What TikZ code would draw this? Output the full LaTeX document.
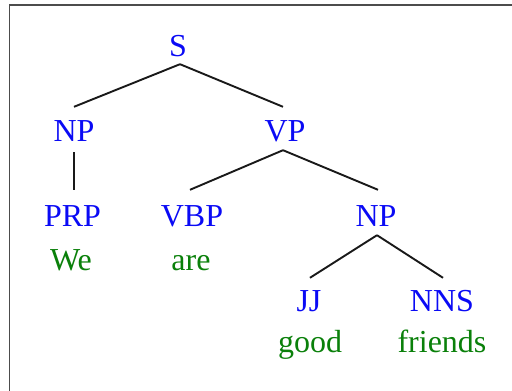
\documentclass[tikz,border=0pt]{standalone}
\usepackage{fontspec}
\setmainfont{Liberation Serif}
\definecolor{tagblue}{RGB}{10,10,245}
\definecolor{wordgreen}{RGB}{10,128,10}
\begin{document}
\begin{tikzpicture}[x=1pt,y=1pt,
  lbl/.style={inner sep=0pt,text height=21pt,text depth=0pt,anchor=base,font=\fontsize{32}{37}\selectfont},
  tag/.style={lbl,text=tagblue},
  word/.style={lbl,text=wordgreen},
  branch/.style={line width=1.9pt,black!90},
  frame/.style={line width=1.6pt,black!70}]
\useasboundingbox (0,0) rectangle (512,391);
\coordinate (tl) at (9.5,386);
\coordinate (tr) at (512,386);
\coordinate (bl) at (9.5,0);
\draw[frame] (tr) -- (tl) -- (bl);
\node[tag] (S) at (178,334) {S};
\node[tag] (NP) at (74,249) {NP};
\node[tag] (VP) at (285,249) {VP};
\node[tag] (PRP) at (72.5,164) {PRP};
\node[tag] (VBP) at (192,164) {VBP};
\node[tag] (NPb) at (376,164) {NP};
\node[word] (We) at (71,120) {We};
\node[word] (are) at (191,120) {are};
\node[tag] (JJ) at (309,79) {JJ};
\node[tag] (NNS) at (442,79) {NNS};
\node[word] (good) at (310,38) {good};
\node[word] (friends) at (442,38) {friends};
\draw[branch] ([xshift=2pt,yshift=-7pt]S.south) -- ([yshift=14pt]NP.north);
\draw[branch] ([xshift=2pt,yshift=-7pt]S.south) -- ([xshift=-2pt,yshift=14pt]VP.north);
\draw[branch] ([yshift=-10pt]NP.south) -- ([xshift=1.5pt,yshift=16pt]PRP.north);
\draw[branch] ([xshift=-2pt,yshift=-8pt]VP.south) -- ([xshift=-2pt,yshift=16pt]VBP.north);
\draw[branch] ([xshift=-2pt,yshift=-8pt]VP.south) -- ([xshift=2pt,yshift=16pt]NPb.north);
\draw[branch] ([xshift=1pt,yshift=-8pt]NPb.south) -- ([xshift=1pt,yshift=13pt]JJ.north);
\draw[branch] ([xshift=1pt,yshift=-8pt]NPb.south) -- ([xshift=1pt,yshift=13pt]NNS.north);
\end{tikzpicture}
\end{document}
